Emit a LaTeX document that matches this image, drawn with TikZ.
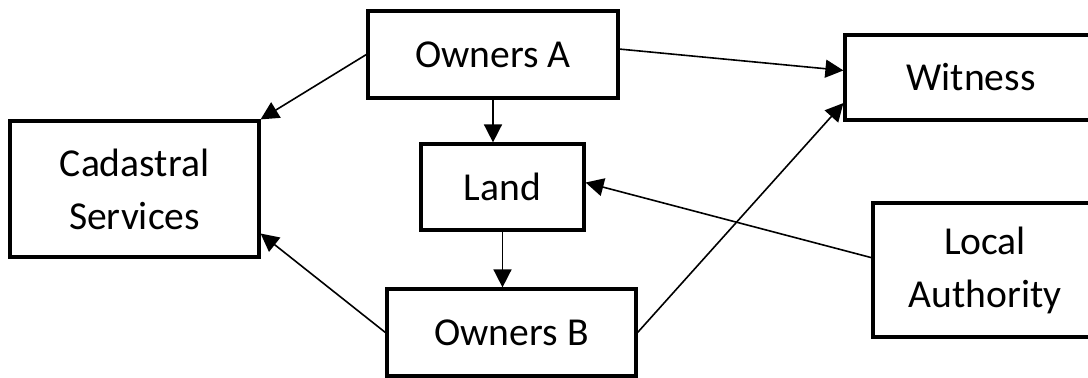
\documentclass[tikz,border=0pt]{standalone}
\usepackage{fontspec}
\setmainfont{Carlito}
\usetikzlibrary{arrows.meta,calc}
\begin{document}
\begin{tikzpicture}[x=0.5pt,y=-0.5pt,
  box/.style={draw=black,line width=1.6pt,fill=white,inner sep=0pt,align=center,
    font=\fontsize{19.8pt}{26.5pt}\selectfont},
  conn/.style={line width=0.8pt,-{Triangle[length=9pt,width=9pt]}}]
\useasboundingbox (0,0) rectangle (1088,378);
\node[box,minimum width=125pt,minimum height=43.5pt] (oa) at (493,54.5) {Owners A};
\node[box,minimum width=126pt,minimum height=42.5pt] (wit) at (971,77.5) {Witness};
\node[box,minimum width=124.5pt,minimum height=68pt] (cad) at (134.5,189) {Cadastral\\Services};
\node[box,minimum width=81.5pt,minimum height=43pt] (land) at (502.5,187) {Land};
\node[box,minimum width=112pt,minimum height=67pt] (loc) at (985,270) {Local\\Authority};
\node[box,minimum width=124.5pt,minimum height=43.5pt] (ob) at (511.5,332.5) {Owners B};
\draw[conn] (oa.west) -- (cad.north east);
\draw[conn] (ob.west) -- ($(cad.north east)!0.82!(cad.south east)$);
\draw[conn] ($(oa.north east)!0.44!(oa.south east)$) -- ($(wit.north west)!0.42!(wit.south west)$);
\draw[conn] (ob.east) -- ($(wit.north west)!0.79!(wit.south west)$);
\draw[conn] ($(loc.north west)!0.41!(loc.south west)$) -- ($(land.north east)!0.45!(land.south east)$);
\draw[conn] (oa.south) -- (oa.south |- land.north);
\draw[conn] (land.south) -- (land.south |- ob.north);
\end{tikzpicture}
\end{document}
